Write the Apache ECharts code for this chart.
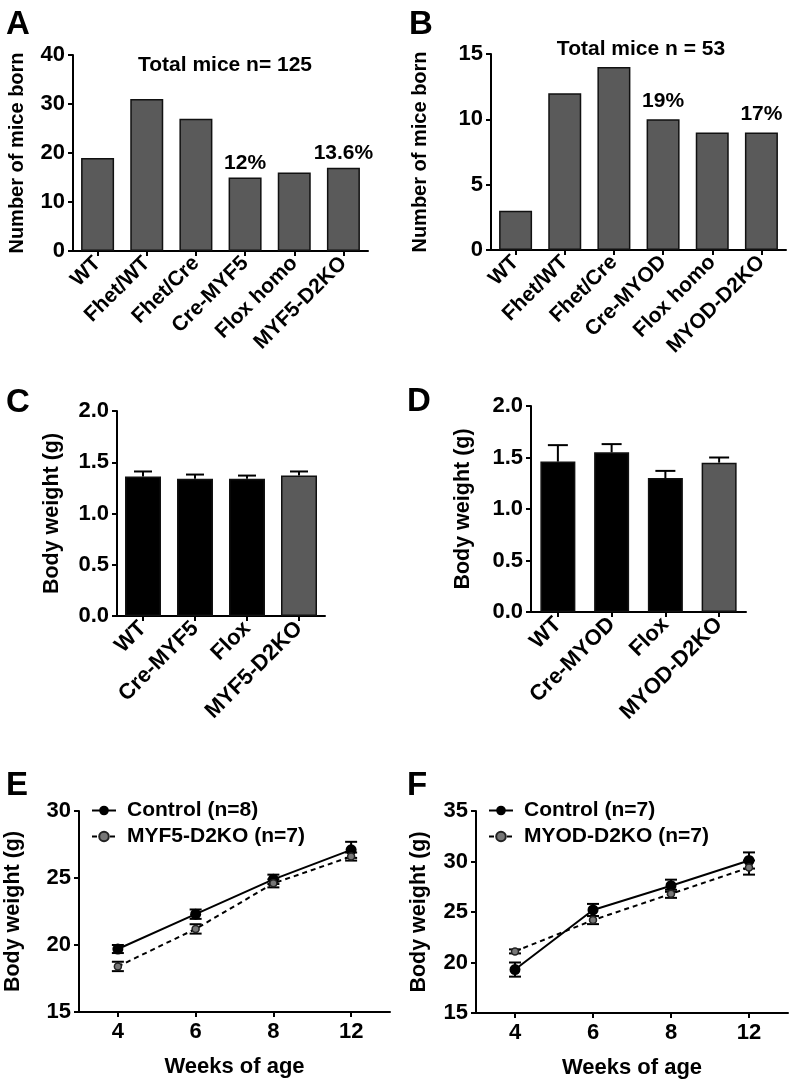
<!DOCTYPE html>
<html>
<head>
<meta charset="utf-8">
<script src="https://cdn.jsdelivr.net/npm/echarts@6/dist/echarts.min.js"></script>
<style>
html,body{margin:0;padding:0;background:#fff;}
#c{width:792px;height:1085px;}
</style>
</head>
<body>
<div id="c"></div>
<script>
// ---- Data ----
const catA = ['WT', 'Fhet/WT', 'Fhet/Cre', 'Cre-MYF5', 'Flox homo', 'MYF5-D2KO'];
const valA = [19, 31, 27, 15, 16, 17];
const pctA = ['', '', '', '12%', '', '13.6%'];
const totalA = 'Total mice n= 125';

const catB = ['WT', 'Fhet/WT', 'Fhet/Cre', 'Cre-MYOD', 'Flox homo', 'MYOD-D2KO'];
const valB = [3, 12, 14, 10, 9, 9];
const pctB = ['', '', '', '19%', '', '17%'];
const totalB = 'Total mice n = 53';

const catC = ['WT', 'Cre-MYF5', 'Flox', 'MYF5-D2KO'];
const meanC = [1.36, 1.34, 1.34, 1.37];
const semC = [0.05, 0.04, 0.03, 0.04];

const catD = ['WT', 'Cre-MYOD', 'Flox', 'MYOD-D2KO'];
const meanD = [1.46, 1.55, 1.30, 1.45];
const semD = [0.16, 0.08, 0.07, 0.05];

const weeks = ['4', '6', '8', '12'];
const ctrlE = [19.7, 22.3, 24.9, 27.1];
const semCtrlE = [0.3, 0.35, 0.35, 0.6];
const koE = [18.4, 21.2, 24.6, 26.6];
const semKoE = [0.35, 0.35, 0.3, 0.3];
const nameCtrlE = 'Control (n=8)';
const nameKoE = 'MYF5-D2KO (n=7)';

const ctrlF = [19.3, 25.2, 27.6, 30.1];
const semCtrlF = [0.7, 0.6, 0.6, 0.8];
const koF = [21.1, 24.2, 26.8, 29.4];
const semKoF = [0.2, 0.4, 0.4, 0.7];
const nameCtrlF = 'Control (n=7)';
const nameKoF = 'MYOD-D2KO (n=7)';

// ---- Styling helpers ----
const FONT = '"Liberation Sans", Arial, Helvetica, sans-serif';
const axisLine = {show: true, lineStyle: {color: '#000', width: 2}};
const axisTick = {show: true, length: 5, lineStyle: {color: '#000', width: 2}};

function catAxis(gi, data, rotate, size) {
  return {
    type: 'category', gridIndex: gi, data: data,
    axisLine: axisLine, axisTick: Object.assign({alignWithLabel: true}, axisTick),
    axisLabel: {color: '#000', fontWeight: 'bold', fontSize: size, fontFamily: FONT,
      rotate: rotate, margin: 9, interval: 0},
    splitLine: {show: false}
  };
}
function valAxis(gi, min, max, interval, name, gap, dec, nameSize) {
  return {
    type: 'value', gridIndex: gi, min: min, max: max, interval: interval,
    name: name, nameLocation: 'middle', nameGap: gap, nameRotate: 90,
    nameTextStyle: {color: '#000', fontWeight: 'bold', fontSize: nameSize, fontFamily: FONT},
    axisLine: axisLine, axisTick: axisTick,
    axisLabel: {color: '#000', fontWeight: 'bold', fontSize: 22, fontFamily: FONT, margin: 8,
      formatter: v => dec ? v.toFixed(dec) : String(v)},
    splitLine: {show: false}
  };
}
function errRender(oneSided, hw) {
  return function (params, api) {
    const i = api.value(0), m = api.value(1), e = api.value(2);
    const top = api.coord([i, m + e]);
    const bot = api.coord([i, oneSided ? m : m - e]);
    const st = {stroke: '#000', lineWidth: 2};
    const ch = [
      {type: 'line', shape: {x1: top[0], y1: top[1], x2: bot[0], y2: bot[1]}, style: st},
      {type: 'line', shape: {x1: top[0] - hw, y1: top[1], x2: top[0] + hw, y2: top[1]}, style: st}
    ];
    if (!oneSided) ch.push({type: 'line', shape: {x1: bot[0] - hw, y1: bot[1], x2: bot[0] + hw, y2: bot[1]}, style: st});
    return {type: 'group', children: ch};
  };
}
function errData(means, sems) { return means.map((m, i) => [i, m, sems[i]]); }

function panelTitle(t, left, top) {
  return {text: t, left: left, top: top, textStyle: {fontSize: 33, fontWeight: 'bold', color: '#000', fontFamily: FONT}};
}
function noteTitle(t, cx, cy, size) {
  return {text: t, left: cx, top: cy - 13, textAlign: 'center',
    textStyle: {fontSize: size || 21, fontWeight: 'bold', color: '#000', fontFamily: FONT}};
}
const xName = {color: '#000', fontWeight: 'bold', fontSize: 22, fontFamily: FONT};

const chart = echarts.init(document.getElementById('c'), null, {renderer: 'canvas'});

const option = {
  animation: false,
  backgroundColor: '#fff',
  textStyle: {fontFamily: FONT},
  title: [
    panelTitle('A', 1, 3), panelTitle('B', 404, 3),
    panelTitle('C', 1, 381), panelTitle('D', 402, 380),
    panelTitle('E', 1, 764), panelTitle('F', 402, 764),
    noteTitle(totalA, 220, 63), noteTitle(totalB, 636, 47)
  ],
  grid: [
    {left: 73, top: 55, width: 295, height: 196},
    {left: 491, top: 54, width: 295, height: 196},
    {left: 117, top: 411, width: 208, height: 205},
    {left: 531, top: 406, width: 215, height: 206},
    {left: 79, top: 811, width: 311, height: 201},
    {left: 476, top: 811, width: 312, height: 202}
  ],
  xAxis: [
    catAxis(0, catA, 45, 21), catAxis(1, catB, 45, 21),
    catAxis(2, catC, 45, 22), catAxis(3, catD, 45, 22),
    Object.assign(catAxis(4, weeks, 0, 22), {name: 'Weeks of age', nameLocation: 'middle', nameGap: 44, nameTextStyle: xName}),
    Object.assign(catAxis(5, weeks, 0, 22), {name: 'Weeks of age', nameLocation: 'middle', nameGap: 44, nameTextStyle: xName})
  ],
  yAxis: [
    valAxis(0, 0, 40, 10, 'Number of mice born', 46, 0, 20),
    valAxis(1, 0, 15, 5, 'Number of mice born', 61, 0, 20),
    valAxis(2, 0, 2, 0.5, 'Body weight (g)', 54, 1, 21.5),
    valAxis(3, 0, 2, 0.5, 'Body weight (g)', 57, 1, 21.5),
    valAxis(4, 15, 30, 5, 'Body weight (g)', 55, 0, 21.5),
    valAxis(5, 15, 35, 5, 'Body weight (g)', 46, 0, 21.5)
  ],
  legend: [
    {left: 86, top: 795, orient: 'vertical', itemGap: 5, itemWidth: 24, itemHeight: 12,
      data: [nameCtrlE, nameKoE],
      textStyle: {color: '#000', fontWeight: 'bold', fontSize: 21, fontFamily: FONT, padding: [0, 0, 0, 6]}},
    {left: 483, top: 795, orient: 'vertical', itemGap: 5, itemWidth: 24, itemHeight: 12,
      data: [nameCtrlF, nameKoF],
      textStyle: {color: '#000', fontWeight: 'bold', fontSize: 21, fontFamily: FONT, padding: [0, 0, 0, 6]}}
  ],
  series: [
    {type: 'bar', xAxisIndex: 0, yAxisIndex: 0, data: valA, barWidth: 33,
      itemStyle: {color: '#5a5a5a', borderColor: '#111', borderWidth: 1.5},
      label: {show: true, position: 'top', distance: 4, color: '#000', fontWeight: 'bold', fontSize: 21,
        fontFamily: FONT, formatter: p => pctA[p.dataIndex]}},
    {type: 'bar', xAxisIndex: 1, yAxisIndex: 1, data: valB, barWidth: 33,
      itemStyle: {color: '#5a5a5a', borderColor: '#111', borderWidth: 1.5},
      label: {show: true, position: 'top', distance: 8, color: '#000', fontWeight: 'bold', fontSize: 21,
        fontFamily: FONT, formatter: p => pctB[p.dataIndex]}},
    {type: 'bar', xAxisIndex: 2, yAxisIndex: 2, data: meanC, barWidth: 36,
      itemStyle: {color: p => p.dataIndex === 3 ? '#5a5a5a' : '#000', borderColor: '#111', borderWidth: 1.5}},
    {type: 'custom', xAxisIndex: 2, yAxisIndex: 2, data: errData(meanC, semC),
      renderItem: errRender(true, 9), encode: {x: 0, y: 1}, z: 5},
    {type: 'bar', xAxisIndex: 3, yAxisIndex: 3, data: meanD, barWidth: 35,
      itemStyle: {color: p => p.dataIndex === 3 ? '#5a5a5a' : '#000', borderColor: '#111', borderWidth: 1.5}},
    {type: 'custom', xAxisIndex: 3, yAxisIndex: 3, data: errData(meanD, semD),
      renderItem: errRender(true, 10), encode: {x: 0, y: 1}, z: 5},

    {type: 'custom', xAxisIndex: 4, yAxisIndex: 4, data: errData(ctrlE, semCtrlE),
      renderItem: errRender(false, 6), encode: {x: 0, y: 1}, z: 3},
    {type: 'custom', xAxisIndex: 4, yAxisIndex: 4, data: errData(koE, semKoE),
      renderItem: errRender(false, 6), encode: {x: 0, y: 1}, z: 3},
    {type: 'line', name: nameCtrlE, xAxisIndex: 4, yAxisIndex: 4, data: ctrlE,
      symbol: 'circle', symbolSize: 11, itemStyle: {color: '#000'},
      lineStyle: {color: '#000', width: 2}, z: 4},
    {type: 'line', name: nameKoE, xAxisIndex: 4, yAxisIndex: 4, data: koE,
      symbol: 'circle', symbolSize: 7, itemStyle: {color: '#777', borderColor: '#222', borderWidth: 1.5},
      lineStyle: {color: '#000', width: 2, type: [5, 4]}, z: 4},

    {type: 'custom', xAxisIndex: 5, yAxisIndex: 5, data: errData(ctrlF, semCtrlF),
      renderItem: errRender(false, 6), encode: {x: 0, y: 1}, z: 3},
    {type: 'custom', xAxisIndex: 5, yAxisIndex: 5, data: errData(koF, semKoF),
      renderItem: errRender(false, 6), encode: {x: 0, y: 1}, z: 3},
    {type: 'line', name: nameCtrlF, xAxisIndex: 5, yAxisIndex: 5, data: ctrlF,
      symbol: 'circle', symbolSize: 11, itemStyle: {color: '#000'},
      lineStyle: {color: '#000', width: 2}, z: 4},
    {type: 'line', name: nameKoF, xAxisIndex: 5, yAxisIndex: 5, data: koF,
      symbol: 'circle', symbolSize: 7, itemStyle: {color: '#777', borderColor: '#222', borderWidth: 1.5},
      lineStyle: {color: '#000', width: 2, type: [5, 4]}, z: 4}
  ]
};
chart.setOption(option);
</script>
</body>
</html>
